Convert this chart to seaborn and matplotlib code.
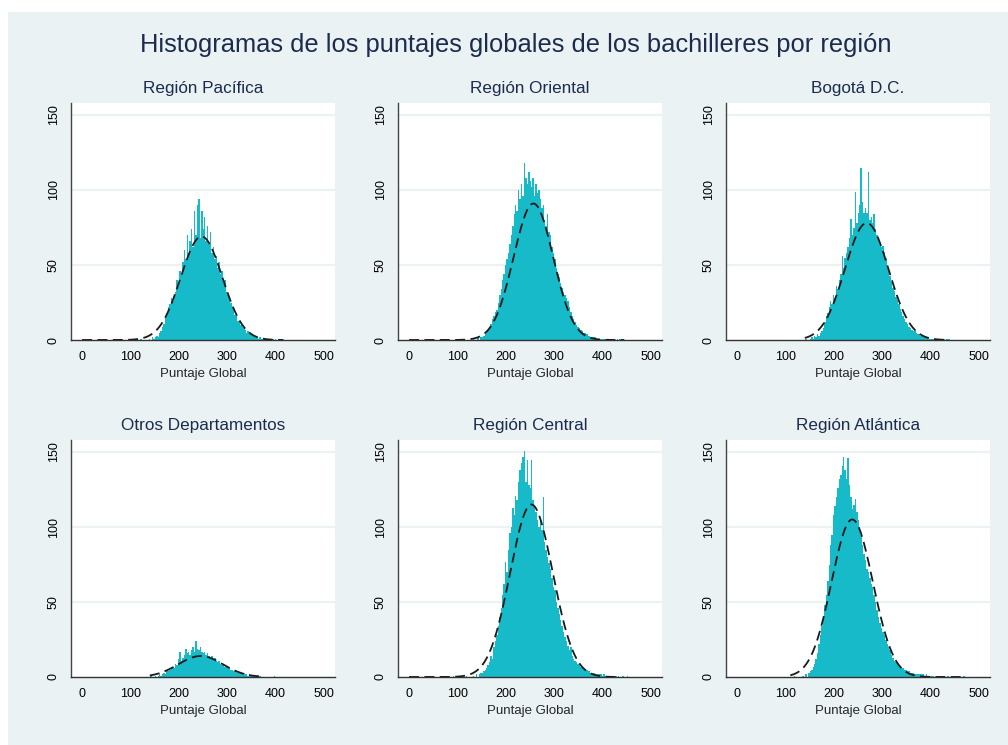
import numpy as np
import pandas as pd
import matplotlib
matplotlib.use("Agg")
import matplotlib.pyplot as plt
import seaborn as sns

# Histogramas de puntajes globales por region
regiones = ["Región Pacífica", "Región Oriental", "Bogotá D.C.",
            "Otros Departamentos", "Región Central", "Región Atlántica"]

# frecuencias por intervalo de 3 puntos, desde 150 hasta 450
inicio = 150
ancho = 3

pacifica = [2, 3, 2, 5, 6, 9, 11, 16, 18, 22,
            24, 28, 26, 30, 32, 40, 36, 46, 44, 52,
            60, 54, 70, 58, 66, 74, 62, 86, 70, 90,
            94, 68, 86, 74, 82, 66, 76, 64, 72, 58,
            62, 54, 56, 48, 52, 44, 46, 38, 40, 32,
            30, 27, 25, 22, 22, 17, 16, 13, 13, 10,
            9, 8, 7, 5, 6, 4, 4, 3, 3, 2,
            2, 1, 2, 1, 1, 1, 1, 0, 1, 1,
            0, 1, 0, 1, 0, 0, 1, 0, 1, 0,
            0, 0, 0, 0, 0, 0, 0, 0, 0, 0]

oriental = [2, 3, 4, 5, 7, 9, 11, 14, 16, 19,
            20, 25, 30, 34, 40, 44, 50, 54, 58, 64,
            70, 76, 84, 90, 86, 100, 94, 104, 96, 118,
            108, 104, 112, 106, 102, 108, 96, 104, 98, 100,
            94, 88, 90, 80, 76, 84, 72, 70, 62, 58,
            54, 48, 44, 42, 38, 35, 32, 30, 28, 26,
            22, 19, 16, 14, 12, 10, 9, 8, 7, 6,
            5, 5, 4, 3, 3, 2, 2, 2, 2, 1,
            1, 1, 1, 1, 1, 1, 0, 1, 0, 1,
            0, 1, 0, 1, 0, 1, 0, 1, 0, 0]

bogota = [1, 2, 1, 3, 2, 4, 3, 5, 6, 8,
          12, 16, 18, 22, 26, 24, 30, 28, 36, 34,
          40, 44, 56, 48, 55, 58, 62, 68, 81, 70,
          75, 99, 78, 85, 90, 115, 92, 85, 88, 85,
          112, 80, 82, 78, 84, 74, 70, 66, 64, 62,
          63, 59, 55, 50, 46, 43, 39, 35, 33, 29,
          27, 24, 21, 19, 16, 14, 12, 11, 9, 8,
          7, 6, 6, 5, 4, 4, 3, 3, 2, 2,
          2, 2, 1, 1, 1, 1, 1, 1, 1, 0,
          1, 0, 1, 0, 1, 1, 0, 0, 0, 0]

otros = [1, 0, 1, 2, 1, 2, 3, 2, 4, 4,
         5, 6, 7, 6, 9, 8, 12, 17, 11, 13,
         15, 19, 16, 17, 15, 18, 20, 17, 24, 19,
         18, 20, 17, 16, 17, 15, 16, 14, 13, 14,
         12, 13, 11, 10, 11, 9, 8, 9, 7, 7,
         6, 6, 5, 5, 4, 4, 4, 3, 3, 3,
         2, 3, 2, 2, 1, 2, 1, 1, 1, 1,
         1, 0, 1, 0, 0, 0, 0, 0, 0, 0,
         0, 0, 1, 0, 0, 0, 0, 0, 0, 0,
         0, 0, 0, 0, 0, 0, 0, 0, 0, 0]

central = [3, 4, 5, 6, 8, 10, 14, 12, 20, 24,
           28, 34, 40, 46, 55, 62, 77, 70, 85, 96,
           100, 113, 108, 121, 118, 130, 138, 143, 147, 151,
           130, 145, 128, 126, 145, 118, 115, 110, 105, 100,
           105, 98, 120, 90, 85, 80, 76, 72, 66, 60,
           58, 50, 46, 42, 38, 34, 30, 27, 24, 21,
           18, 20, 14, 12, 11, 10, 9, 8, 7, 6,
           6, 5, 5, 4, 4, 3, 3, 3, 2, 2,
           2, 2, 2, 1, 2, 1, 1, 1, 1, 0,
           1, 0, 1, 0, 1, 0, 0, 1, 0, 0]

atlantica = [4, 5, 7, 9, 12, 16, 22, 28, 34, 40,
             48, 55, 64, 75, 88, 95, 108, 114, 120, 126,
             132, 135, 141, 147, 138, 132, 146, 128, 120, 112,
             115, 119, 110, 105, 100, 95, 88, 82, 78, 72,
             70, 66, 62, 60, 55, 50, 45, 40, 36, 33,
             30, 28, 25, 22, 20, 18, 15, 13, 11, 10,
             9, 8, 7, 6, 6, 5, 5, 4, 4, 3,
             3, 3, 2, 2, 2, 2, 2, 2, 2, 1,
             2, 1, 1, 1, 1, 1, 0, 1, 1, 0,
             1, 0, 1, 0, 0, 1, 0, 0, 1, 0]

# barras sueltas fuera del rango principal (puntaje, frecuencia)
sueltas = [
    [(1, 1), (96, 1), (120, 1), (138, 1), (144, 2), (147, 1)],
    [(15, 1), (132, 1), (141, 2), (147, 2)],
    [(143, 1)],
    [(141, 1)],
    [(1, 1), (63, 1), (90, 1), (105, 1), (117, 1), (132, 1), (138, 2), (144, 2), (147, 3), (450, 1)],
    [(117, 1), (135, 1), (141, 2), (147, 3), (468, 1)],
]

# curva normal ajustada: media, desviacion, altura maxima, rango dibujado
media = [247, 257, 268, 245, 253, 238]
desv = [43, 41, 45, 46, 44, 42.5]
pico = [69, 91, 78, 14, 115, 105]
curva_min = [0, 0, 140, 140, 0, 110]
curva_max = [415, 445, 440, 375, 430, 470]

frecuencias = [pacifica, oriental, bogota, otros, central, atlantica]

fondo = "#EAF2F3"
color_barra = "#17BAC8"
color_titulo = "#1c2b4e"

sns.set_style("white")
plt.rcParams["font.family"] = ["Liberation Sans", "DejaVu Sans"]

fig = plt.figure(figsize=(10.08, 7.45), dpi=100)
fig.patch.set_facecolor(fondo)
# franjas blancas del borde superior e izquierdo
fig.patches.append(plt.Rectangle((0, 733 / 745), 1, 12 / 745, transform=fig.transFigure,
                                 facecolor="white", edgecolor="none"))
fig.patches.append(plt.Rectangle((0, 0), 8 / 1008, 1, transform=fig.transFigure,
                                 facecolor="white", edgecolor="none"))

fig.text(516 / 1008, 1 - 45 / 745, "Histogramas de los puntajes globales de los bachilleres por región",
         ha="center", va="center", fontsize=18.4, color=color_titulo)

izq = [71, 398, 726]
abajo = [340, 677]
w, h = 264, 237

for k in range(6):
    fila, col = divmod(k, 3)
    ax = fig.add_axes([izq[col] / 1008, (745 - abajo[fila]) / 745, w / 1008, h / 745])
    ax.set_facecolor("white")

    centros = inicio + ancho * np.arange(len(frecuencias[k])) + ancho / 2
    df = pd.DataFrame({"puntaje": centros, "n": frecuencias[k]})
    extra = pd.DataFrame(sueltas[k], columns=["puntaje", "n"])
    df = pd.concat([df, extra], ignore_index=True)

    sns.histplot(data=df, x="puntaje", weights="n", binwidth=ancho, binrange=(0, 501), ax=ax,
                 color=color_barra, alpha=1, edgecolor="none", linewidth=0)

    xs = np.linspace(curva_min[k], curva_max[k], 400)
    ys = pico[k] * np.exp(-0.5 * ((xs - media[k]) / desv[k]) ** 2)
    sns.lineplot(x=xs, y=ys, ax=ax, color="#1a1a1a", linewidth=1.3)
    ax.lines[-1].set_dashes((5.5, 3))

    ax.set_xlim(-23, 523)
    ax.set_ylim(0, 158)
    ax.set_xticks([0, 100, 200, 300, 400, 500])
    ax.set_yticks([0, 50, 100, 150])
    ax.set_yticklabels(["0", "50", "100", "150"], rotation=90, va="center")
    for yv in [50, 100, 150]:
        ax.axhline(yv, color=fondo, linewidth=1.5, zorder=0)
    ax.tick_params(axis="both", labelsize=9, length=5, width=0.8, color="#444444",
                   labelcolor="black", pad=3)
    ax.set_xlabel("Puntaje Global", fontsize=9.5, labelpad=3.5)
    ax.set_ylabel("")
    ax.set_title(regiones[k], fontsize=12.3, color=color_titulo, pad=7)
    for s in ["top", "right"]:
        ax.spines[s].set_visible(False)
    ax.spines["left"].set_color("#444444")
    ax.spines["bottom"].set_color("#333333")
    ax.spines["left"].set_linewidth(1.0)
    ax.spines["bottom"].set_linewidth(1.0)

fig.savefig("out.png", dpi=100, facecolor=fig.get_facecolor())
